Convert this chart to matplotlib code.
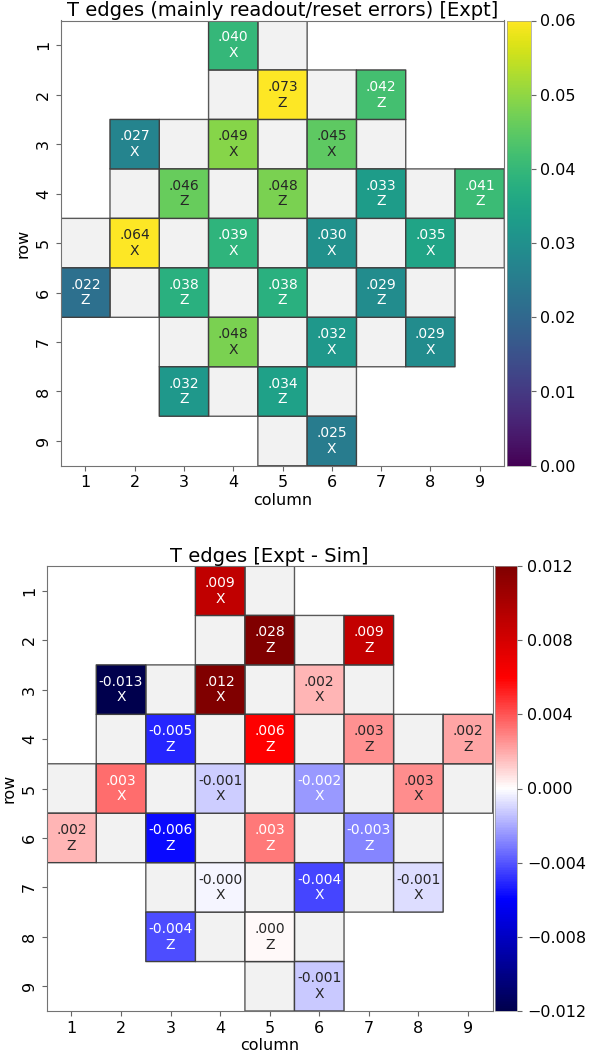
import numpy as np
import matplotlib
matplotlib.use("Agg")
import matplotlib.pyplot as plt
from matplotlib.colors import ListedColormap

# cells with a measurement (row, column, basis)
meas_rows = [1, 2, 2, 3, 3, 3, 4, 4, 4, 4, 5, 5, 5, 5, 6, 6, 6, 6, 7, 7, 7, 8, 8, 9]
meas_cols = [4, 5, 7, 2, 4, 6, 3, 5, 7, 9, 2, 4, 6, 8, 1, 3, 5, 7, 4, 6, 8, 3, 5, 6]
basis = ['X', 'Z', 'Z', 'X', 'X', 'X', 'Z', 'Z', 'Z', 'Z', 'X', 'X', 'X', 'X',
         'Z', 'Z', 'Z', 'Z', 'X', 'X', 'X', 'Z', 'Z', 'X']

expt = [0.040, 0.073, 0.042, 0.027, 0.049, 0.0452, 0.046, 0.048, 0.033, 0.041,
        0.064, 0.039, 0.030, 0.035, 0.022, 0.038, 0.038, 0.029, 0.048, 0.032,
        0.029, 0.032, 0.034, 0.025]
diff = [0.009, 0.028, 0.0088, -0.013, 0.012, 0.0017, -0.0051, 0.006, 0.0026, 0.0021,
        0.0034, -0.0012, -0.0024, 0.0027, 0.0017, -0.0058, 0.0031, -0.0029,
        -0.0002, -0.0044, -0.0008, -0.0042, 0.0001, -0.0013]

# empty (data qubit) cells
gray_rows = [1, 2, 2, 3, 3, 3, 4, 4, 4, 4, 5, 5, 5, 5, 5, 6, 6, 6, 6, 7, 7, 7, 8, 8, 9]
gray_cols = [5, 4, 6, 3, 5, 7, 2, 4, 6, 8, 1, 3, 5, 7, 9, 2, 4, 6, 8, 3, 5, 7, 4, 6, 5]

W, H = 607, 1059
edges = np.arange(0.5, 10.5, 1.0)


def fmt(v):
    s = f"{v:.3f}"
    return s[1:] if v >= 0 else s


def text_color(cmap, rgba, nv):
    if cmap == 'viridis':
        return 'white' if nv < 0.72 else '0.15'
    g = 0.299 * rgba[0] + 0.587 * rgba[1] + 0.114 * rgba[2]
    return 'white' if g < 0.66 else '0.15'


def draw(ax_rect, cax_rect, values, cmap, vmin, vmax, ticks, title):
    ax = fig.add_axes(ax_rect)
    cax = fig.add_axes(cax_rect)

    grid = np.full((9, 9), np.nan)
    for r, c in zip(gray_rows, gray_cols):
        grid[r - 1, c - 1] = 1.0
    ax.pcolor(edges, edges, np.ma.masked_invalid(grid), cmap=ListedColormap(['#f2f2f2']),
              edgecolors='0.35', linewidth=1.0)

    vals = np.full((9, 9), np.nan)
    for r, c, v in zip(meas_rows, meas_cols, values):
        vals[r - 1, c - 1] = v
    m = ax.pcolor(edges, edges, np.ma.masked_invalid(vals), cmap=cmap, vmin=vmin, vmax=vmax,
                  edgecolors='0.25', linewidth=1.0)

    norm = m.norm
    cm = plt.get_cmap(cmap)
    for r, c, v, b in zip(meas_rows, meas_cols, values, basis):
        nv = float(np.clip(norm(v), 0, 1))
        col = text_color(cmap, cm(nv), nv)
        ax.text(c, r, fmt(v) + "\n" + b, ha='center', va='center', fontsize=10,
                color=col, linespacing=1.15)

    ax.set_xlim(0.5, 9.5)
    ax.set_ylim(9.5, 0.5)
    ax.set_xticks(range(1, 10))
    ax.set_yticks(range(1, 10))
    ax.tick_params(labelsize=11.5, color='0.4')
    plt.setp(ax.get_yticklabels(), rotation=90, va='center')
    for s in ax.spines.values():
        s.set_color('0.45')
    ax.set_xlabel('column', fontsize=11.5, labelpad=2)
    ax.set_ylabel('row', fontsize=11.5, labelpad=4)
    ax.set_title(title, fontsize=14, pad=2.5)

    cb = fig.colorbar(m, cax=cax, ticks=ticks)
    cb.outline.set_linewidth(0.5)
    cb.outline.set_edgecolor('0.6')
    cb.ax.tick_params(labelsize=11.5, color='0.4')
    return ax


fig = plt.figure(figsize=(W / 100, H / 100), dpi=100)

draw([60.7 / W, 1 - 465.7 / H, 443.6 / W, 445.2 / H],
     [507.3 / W, 1 - 465.7 / H, 23.4 / W, 445.2 / H],
     expt, 'viridis', 0.0, 0.06, [0, 0.01, 0.02, 0.03, 0.04, 0.05, 0.06],
     'T edges (mainly readout/reset errors) [Expt]')

draw([46.7 / W, 1 - 1011 / H, 446 / W, 445 / H],
     [495.2 / W, 1 - 1011 / H, 22.1 / W, 445 / H],
     diff, 'seismic', -0.012, 0.012, [-0.012, -0.008, -0.004, 0.0, 0.004, 0.008, 0.012],
     'T edges [Expt - Sim]')

fig.savefig('out.png', dpi=100)
